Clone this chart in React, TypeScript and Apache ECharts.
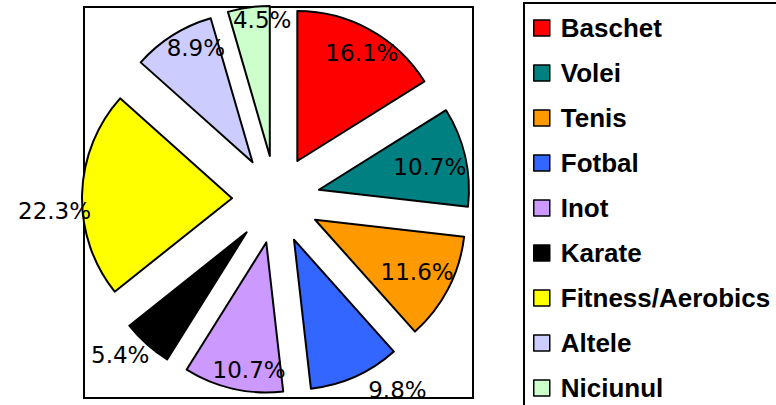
import React, { useEffect, useRef } from 'react';
import * as echarts from 'echarts';

const categories = ['Baschet', 'Volei', 'Tenis', 'Fotbal', 'Inot', 'Karate', 'Fitness/Aerobics', 'Altele', 'Niciunul'];
const shares = [16.1, 10.7, 11.6, 9.8, 10.7, 5.4, 22.3, 8.9, 4.5];
const colors = ['#FF0000', '#008080', '#FF9900', '#3366FF', '#CC99FF', '#000000', '#FFFF00', '#CCCCFF', '#CCFFCC'];

// label placement (Excel "best fit"): position, label line length, horizontal padding [l, r], vertical shift (px, + = down)
const labelPlacement: { position: string; length?: number; padL: number; padR: number; shift: number }[] = [
  { position: 'inside', padL: 8, padR: 0, shift: 1 },
  { position: 'inside', padL: 0, padR: 22, shift: 5 },
  { position: 'inside', padL: 0, padR: 18, shift: -5 },
  { position: 'outside', length: 12, padL: 8, padR: 0, shift: 2 },
  { position: 'inside', padL: 21, padR: 0, shift: 6 },
  { position: 'outside', length: -4, padL: 0, padR: 0, shift: 14 },
  { position: 'outside', length: -9, padL: 0, padR: 0, shift: 17 },
  { position: 'inside', padL: 20, padR: 0, shift: -9 },
  { position: 'inside', padL: 20, padR: 0, shift: -12 },
];

export default function App() {
  const ref = useRef<HTMLDivElement>(null);
  useEffect(() => {
    if (!ref.current) return;
    const chart = echarts.init(ref.current, null, { renderer: 'svg' });
    const center = [276, 199.5];
    const border = { borderColor: '#000', borderWidth: 2 };
    chart.setOption({
      animation: false,
      backgroundColor: '#fff',
      graphic: [
        { type: 'rect', z: -10, shape: { x: 84, y: 7, width: 389, height: 391 }, style: { fill: '#fff', stroke: '#000', lineWidth: 2 } },
        { type: 'rect', z: -10, shape: { x: 524, y: 3, width: 280, height: 430 }, style: { fill: '#fff', stroke: '#000', lineWidth: 2 } },
      ],
      legend: {
        orient: 'vertical',
        left: 533,
        top: 15,
        padding: 0,
        itemWidth: 16,
        itemHeight: 16,
        itemGap: 19,
        icon: 'rect',
        selectedMode: false,
        itemStyle: { borderColor: '#000', borderWidth: 1.5 },
        textStyle: {
          fontFamily: 'Liberation Sans',
          fontWeight: 'bold',
          fontSize: 26,
          lineHeight: 24,
          color: '#000',
          padding: [0, 0, 0, 6],
        },
        data: categories,
      },
      series: [
        {
          type: 'pie',
          center,
          radius: [0, 150],
          startAngle: 90,
          clockwise: true,
          selectedMode: 'multiple',
          selectedOffset: 44,
          avoidLabelOverlap: false,
          label: { show: false },
          labelLine: { show: false },
          itemStyle: border,
          select: { itemStyle: border },
          emphasis: { disabled: true },
          data: categories.map((name, i) => ({
            name,
            value: shares[i],
            selected: true,
            itemStyle: { color: colors[i] },
          })),
        },
        {
          type: 'pie',
          center,
          radius: [94, 150],
          startAngle: 90,
          clockwise: true,
          selectedMode: 'multiple',
          selectedOffset: 44,
          avoidLabelOverlap: false,
          labelLayout: { hideOverlap: false },
          z: 3,
          itemStyle: { color: 'rgba(0,0,0,0)', borderWidth: 0 },
          select: { itemStyle: { color: 'rgba(0,0,0,0)', borderWidth: 0 } },
          emphasis: { disabled: true },
          label: {
            show: true,
            fontFamily: 'DejaVu Sans',
            fontSize: 23,
            color: '#000',
            distanceToLabelLine: 0,
            formatter: (p: any) => {
              const txt = `${Number(p.value).toFixed(1)}%`;
              const s = labelPlacement[p.dataIndex].shift;
              if (s > 0) return '\n' + txt;
              if (s < 0) return txt + '\n';
              return txt;
            },
          },
          labelLine: { show: false, length2: 0 },
          data: categories.map((name, i) => {
            const lp = labelPlacement[i];
            const label: any = { position: lp.position, padding: [0, lp.padR, 0, lp.padL] };
            if (lp.shift !== 0) label.lineHeight = Math.abs(lp.shift) * 2;
            return {
              name,
              value: shares[i],
              selected: true,
              label,
              labelLine: { show: false, length: lp.length ?? 0, length2: 0 },
            };
          }),
        },
      ],
    });
    return () => chart.dispose();
  }, []);
  return (
    <div
      ref={ref}
      style={{ position: 'fixed', left: 0, top: 0, width: 776, height: 405 }}
    />
  );
}
